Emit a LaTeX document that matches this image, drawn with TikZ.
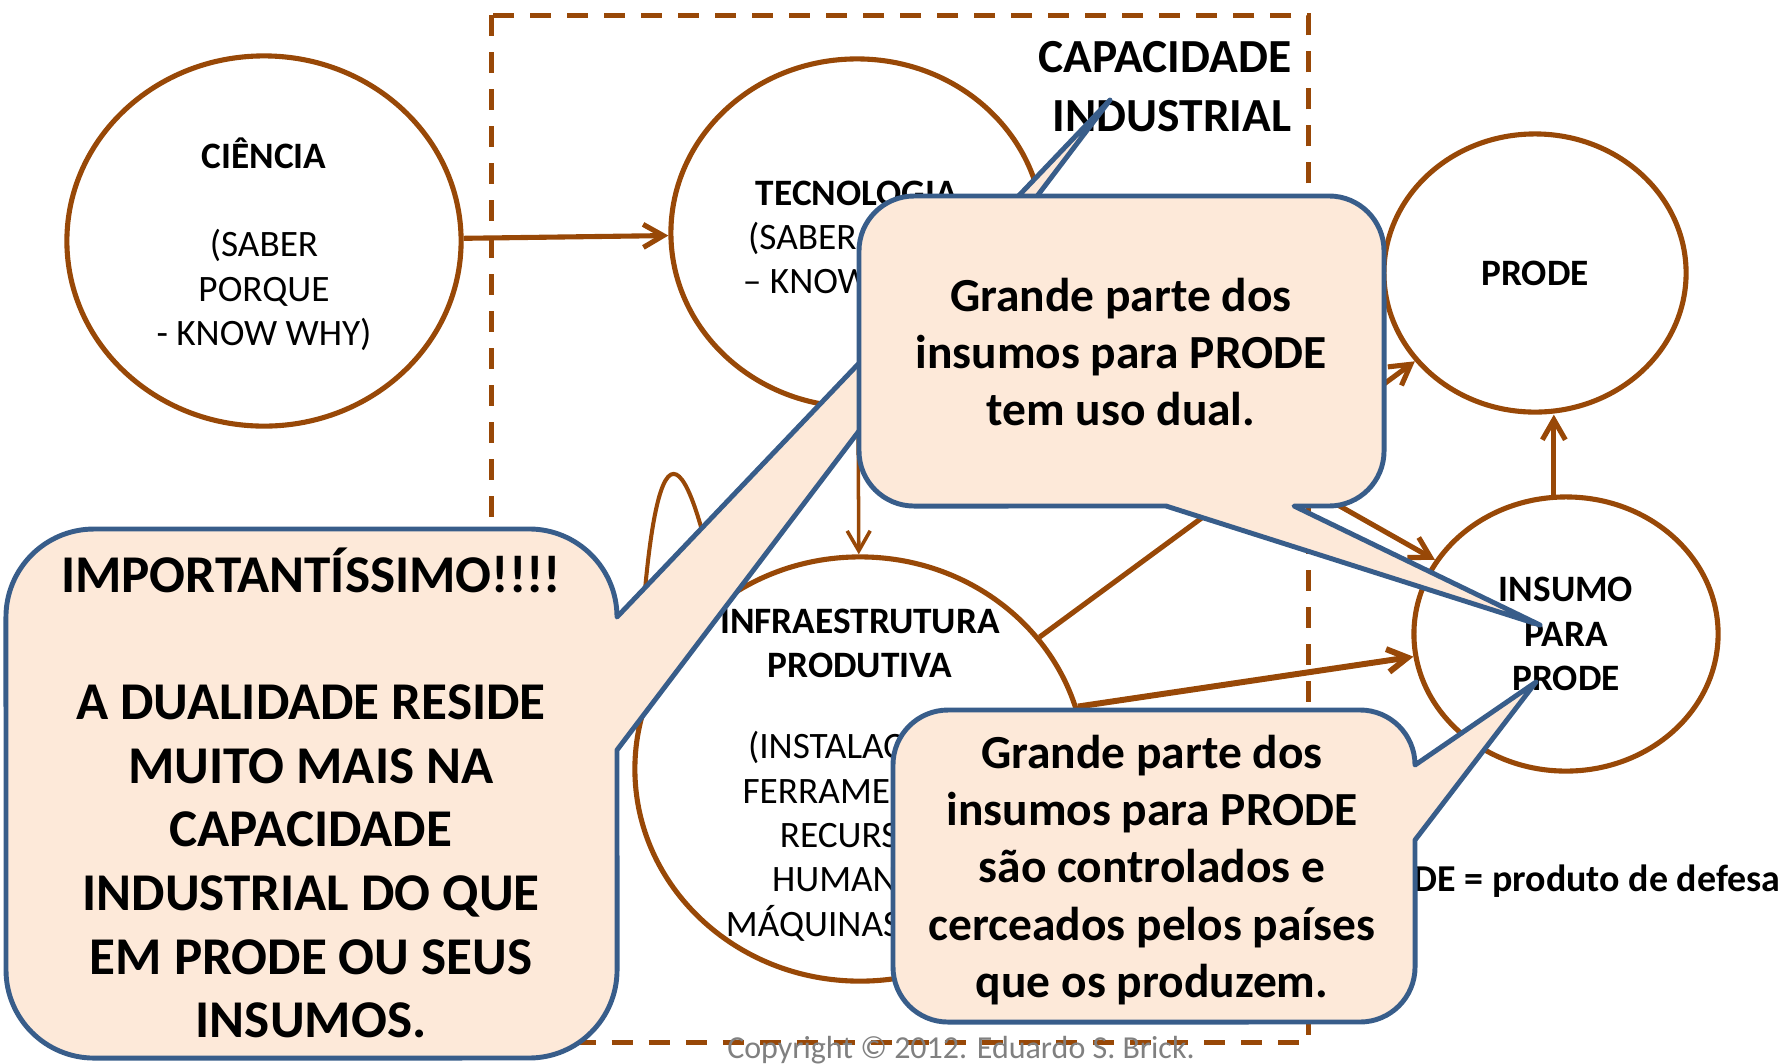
\documentclass[tikz,border=0pt]{standalone}
\usepackage{fontspec}
\setmainfont{Carlito}
\usetikzlibrary{arrows.meta,shapes.geometric}
\definecolor{marrom}{RGB}{152,72,7}
\definecolor{azul}{RGB}{56,93,138}
\definecolor{pessego}{RGB}{253,233,217}

\begin{document}
\begin{tikzpicture}[x=0.01cm,y=-0.01cm]
        \tikzstyle{every node}+=[inner sep=0pt]
        \tikzstyle{estado}=[draw=marrom,line width=1.45pt,ellipse,fill=white]
        \tikzstyle{rotulo}=[align=center,font=\fontsize{10.6}{12.6}\selectfont]
        \tikzstyle{seta}=[draw=marrom,line width=1.45pt,-{Straight Barb[length=2mm,width=2.3mm]}]
        \tikzstyle{balao}=[draw=azul,fill=pessego,line width=1.4pt,line join=round]
        \tikzstyle{fala}=[align=center,font=\bfseries\fontsize{13.5}{16.3}\selectfont]
        \useasboundingbox (0,0) rectangle (1783,1063);
        \draw [marrom,line width=1.42pt,dash pattern=on 0.21cm off 0.16cm] (491,15) rectangle (1308,1042);
        \node [estado,minimum width=3.94cm,minimum height=3.7cm] (ciencia) at (264,241) {};
        \node [rotulo] (ciencia-txt) at (264,244) {\textbf{CIÊNCIA}\\[12.6pt](SABER\\PORQUE\\- KNOW WHY)};
        \node [estado,minimum width=3.72cm,minimum height=3.48cm] (tecnologia) at (857,233) {};
        \node [rotulo] (tecnologia-txt) at (857,240) {\textbf{TECNOLOGIA}\\(SABER COMO\\– KNOW HOW)};
        \node [estado,minimum width=4.5cm,minimum height=4.24cm] (infra) at (860,769) {};
        \node [rotulo] (infra-txt) at (860,775) {\textbf{INFRAESTRUTURA}\\\textbf{PRODUTIVA}\\[10.5pt](INSTALAÇÕES,\\FERRAMENTAS,\\RECURSOS\\HUMANOS,\\MÁQUINAS, ETC.)};
        \node [estado,minimum width=3.02cm,minimum height=2.78cm] (prode) at (1535,273) {};
        \node [rotulo] (prode-txt) at (prode.center) {\textbf{PRODE}};
        \node [estado,minimum width=3.04cm,minimum height=2.74cm] (insumo) at (1566,634) {};
        \node [rotulo] (insumo-txt) at (insumo.center) {\textbf{INSUMO}\\\textbf{PARA}\\\textbf{PRODE}};
        \draw [seta] (ciencia) -- (tecnologia);
        \draw [seta,line width=1pt] (tecnologia) -- (infra);
        \draw [seta] (tecnologia) -- (insumo);
        \draw [seta] (infra) -- (prode);
        \draw [seta,line width=1.7pt] (infra.16) -- (insumo);
        \draw [seta] (insumo.95) -- (insumo.95 |- prode.south);
        \draw [seta,line width=1.15pt] (infra.130) .. controls (680,415) and (650,415) .. (infra.170);
        \node [anchor=east,align=right,font=\bfseries\fontsize{13.5}{16.8}\selectfont] (capacidade) at (1292,87) {CAPACIDADE\\INDUSTRIAL};
        \node [anchor=east,font=\bfseries\fontsize{10.8}{12.6}\selectfont] (legenda) at (1781,881) {PRODE = produto de defesa};
        \node [anchor=base,text=gray,font=\fontsize{9.1}{11}\selectfont] (copyright) at (961,1058) {Copyright © 2012. Eduardo S. Brick.};
        \filldraw [balao] (617,750) -- (1110,100) -- (617,617) arc (0:90:0.88cm) -- (94,529) arc (90:180:0.88cm) -- (6,970) arc (180:270:0.88cm) -- (529,1058) arc (270:360:0.88cm) -- cycle;
        \node [fala,font=\bfseries\fontsize{15.1}{18.1}\selectfont] (falaC) at (311,793) {IMPORTANTÍSSIMO!!!!\\[18.1pt]A DUALIDADE RESIDE\\MUITO MAIS NA\\CAPACIDADE\\INDUSTRIAL DO QUE\\EM PRODE OU SEUS\\INSUMOS.};
        \filldraw [balao] (1166,506) -- (1540,625) -- (1294,506) -- (1329,506) arc (270:360:0.55cm) -- (1384,251) arc (0:90:0.55cm) -- (914,196) arc (90:180:0.55cm) -- (859,451) arc (180:270:0.55cm) -- cycle;
        \node [fala] (falaA) at (1121,352) {Grande parte dos\\insumos para PRODE\\tem uso dual.};
        \filldraw [balao] (1415,840) -- (1536,682) -- (1415,765) arc (0:90:0.55cm) -- (948,710) arc (90:180:0.55cm) -- (893,967) arc (180:270:0.55cm) -- (1360,1022) arc (270:360:0.55cm) -- cycle;
        \node [fala] (falaB) at (1152,870) {Grande parte dos\\insumos para PRODE\\são controlados e\\cerceados pelos países\\que os produzem.};
\end{tikzpicture}
\end{document}
